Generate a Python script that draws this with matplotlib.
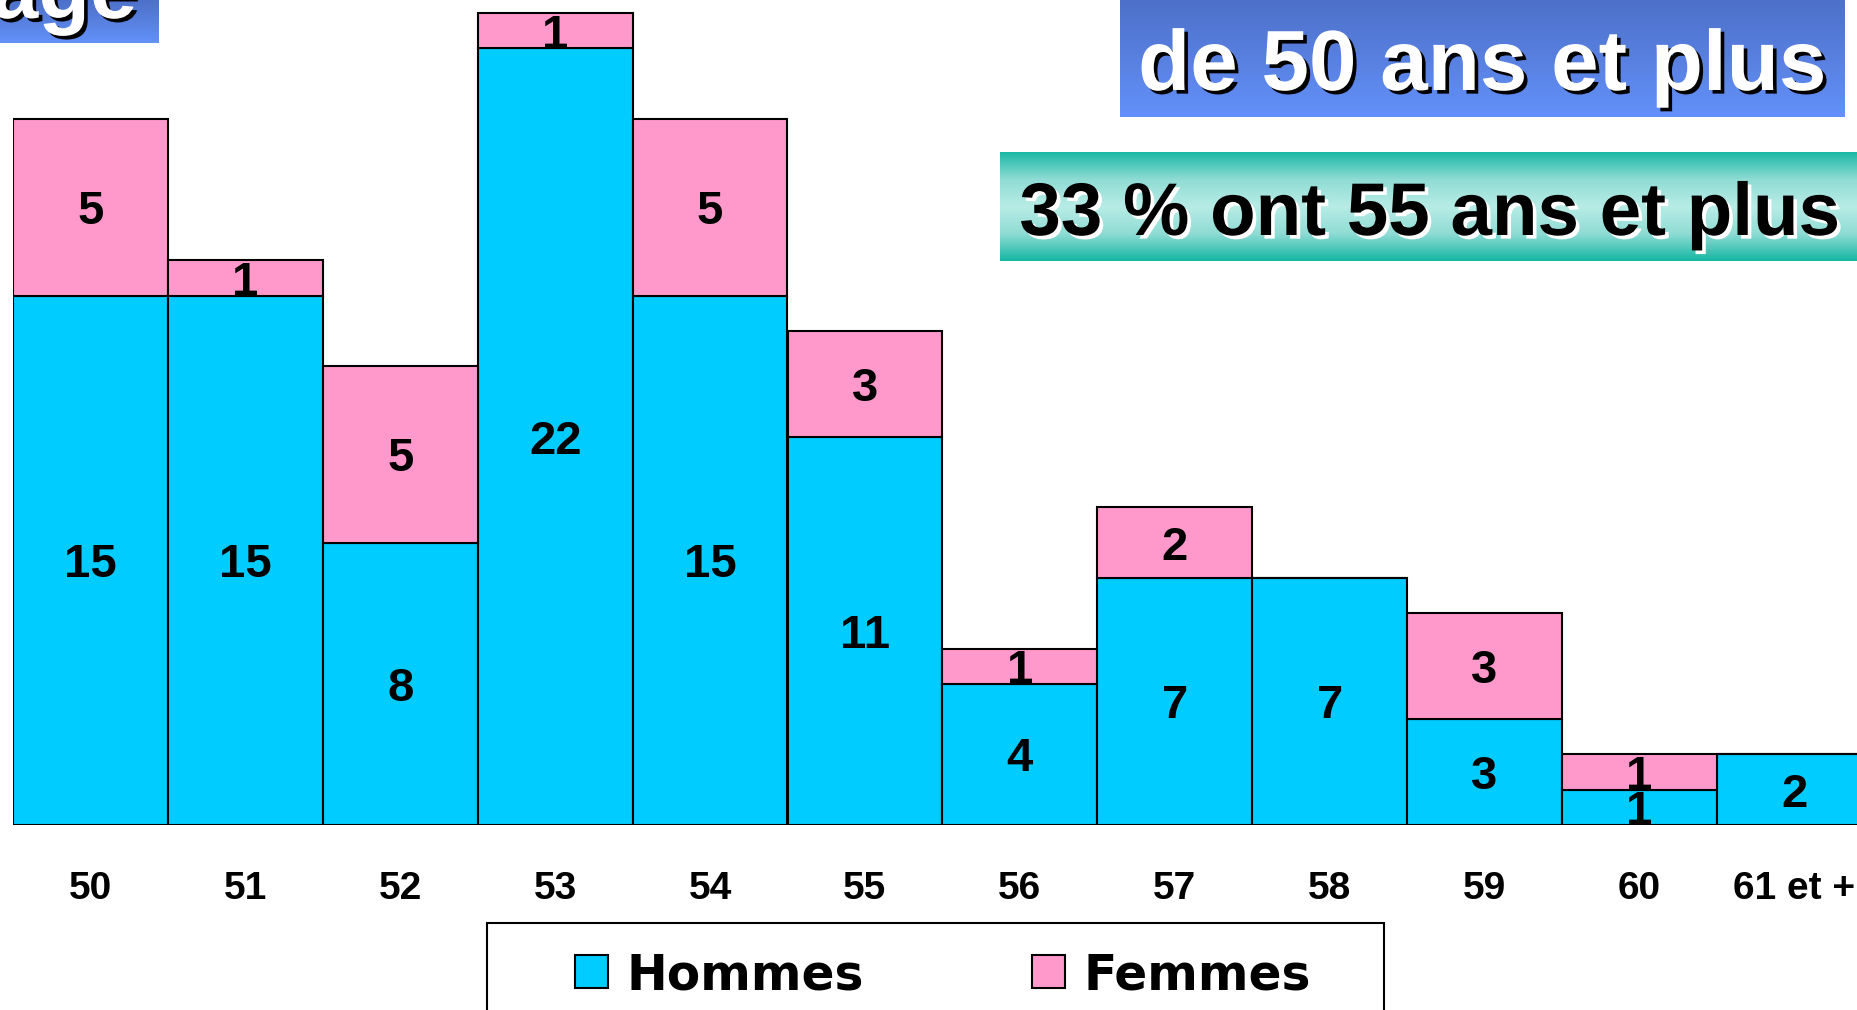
import numpy as np
import matplotlib
matplotlib.use('Agg')
import matplotlib.pyplot as plt
import matplotlib.patheffects as pe
from matplotlib.patches import Rectangle
from matplotlib.colors import LinearSegmentedColormap

# données : effectifs par âge
AGES = ['50', '51', '52', '53', '54', '55', '56', '57', '58', '59', '60', '61 et +']
HOMMES = [15, 15, 8, 22, 15, 11, 4, 7, 7, 3, 1, 2]
FEMMES = [5, 1, 5, 1, 5, 3, 1, 2, 0, 3, 1, 0]

C_H = '#00ccff'
C_F = '#ff99cc'
FONT = 'Liberation Sans'

W, H = 1858, 1010
fig = plt.figure(figsize=(W / 100, H / 100), dpi=100)

# axes: barres collées, la dernière coupée par le bord droit
bar_px = 154.9
unit_px = 35.3
base_px = 825
left_px = 13
ax = fig.add_axes([left_px / W, (H - base_px) / H, 1 - left_px / W, base_px / H])
x = np.arange(len(AGES))
ax.bar(x, HOMMES, width=1, color=C_H, edgecolor='black', linewidth=1.5)
ax.bar(x, FEMMES, width=1, bottom=HOMMES, color=C_F, edgecolor='black', linewidth=1.5)
ax.set_xlim(-0.5, -0.5 + (W - left_px) / bar_px)
ax.set_ylim(0, base_px / unit_px)
for s in ax.spines.values():
    s.set_visible(False)
ax.set_yticks([])
ax.set_xticks(x)
ax.set_xticklabels(AGES, fontsize=28, fontweight='bold', family=FONT)
ax.tick_params(axis='x', length=0, pad=33)

for i in range(len(AGES)):
    h, f = HOMMES[i], FEMMES[i]
    if h:
        ax.text(i, h / 2, str(h), ha='center', va='center_baseline', fontsize=34,
                fontweight='bold', family=FONT)
    if f:
        ax.text(i, h + f / 2, str(f), ha='center', va='center_baseline', fontsize=34,
                fontweight='bold', family=FONT)


def grad_box(x0, y0, x1, y1, colors):
    bax = fig.add_axes([x0 / W, 1 - y1 / H, (x1 - x0) / W, (y1 - y0) / H])
    cmap = LinearSegmentedColormap.from_list('g', colors)
    bax.imshow(np.linspace(0, 1, 256).reshape(-1, 1), aspect='auto', cmap=cmap)
    bax.axis('off')
    return bax


blue_grad = ['#4d71c9', '#5880e0', '#6391fa']
teal_grad = ['#1ab8a6', '#8fdcd4', '#b8ece6', '#8fdcd4', '#16b6a4']
grad_box(0, 0, 159, 43, blue_grad)
grad_box(1120, 0, 1845, 117, blue_grad)
grad_box(1000, 152, 1858, 261, teal_grad)

shadow_k = [pe.withSimplePatchShadow(offset=(2.6, -2.6), shadow_rgbFace='black', alpha=1)]
shadow_w = [pe.withSimplePatchShadow(offset=(2.6, -2.6), shadow_rgbFace='white', alpha=1)]

fig.text(137 / W, 1 - 18 / H, 'age', ha='right', va='baseline', fontsize=61,
         fontweight='bold', family=FONT, color='white', path_effects=shadow_k)
fig.text(1482 / W, 1 - 90 / H, 'de 50 ans et plus', ha='center', va='baseline',
         fontsize=61.5, fontweight='bold', family=FONT, color='white', path_effects=shadow_k)
fig.text(1430 / W, 1 - 235 / H, '33 % ont 55 ans et plus', ha='center', va='baseline',
         fontsize=53.7, fontweight='bold', family=FONT, color='black', path_effects=shadow_w)

# légende
fig.patches.append(Rectangle((487 / W, -0.05), (1384 - 487) / W, 0.05 + 1 - 923 / H,
                             transform=fig.transFigure, facecolor='white',
                             edgecolor='black', linewidth=1.5))
for sx, lab, col in [(575, 'Hommes', C_H), (1032, 'Femmes', C_F)]:
    fig.patches.append(Rectangle((sx / W, 1 - 988 / H), 33 / W, 33 / H,
                                 transform=fig.transFigure, facecolor=col,
                                 edgecolor='black', linewidth=1.5))
    fig.text((sx + 52) / W, 1 - 990 / H, lab, ha='left', va='baseline', fontsize=35,
             fontweight='bold', family='DejaVu Sans')

plt.savefig('out.png', dpi=100)
